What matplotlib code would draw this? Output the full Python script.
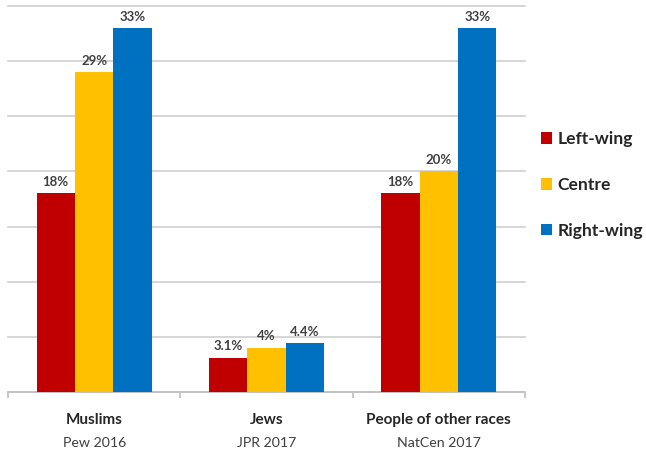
import matplotlib
matplotlib.use("Agg")
import matplotlib.pyplot as plt
from matplotlib.patches import Patch
import numpy as np

plt.rcParams['font.family'] = ['Lato', 'DejaVu Sans']

groups = ["Muslims", "Jews", "People of other races"]
sources = ["Pew 2016", "JPR 2017", "NatCen 2017"]
series = ["Left-wing", "Centre", "Right-wing"]
left_wing = [18, 3.1, 18]
centre = [29, 4.0, 20]
right_wing = [33, 4.4, 33]
colors = ["#C00000", "#FFC000", "#0070C0"]

fig = plt.figure(figsize=(6.46, 4.54), dpi=100)
W, H = 646, 454
ax = fig.add_axes([8 / W, (H - 392) / H, (525 - 8) / W, (392 - 6) / H])

x = np.arange(len(groups))
width = 0.223
for i, (vals, col, name) in enumerate(zip([left_wing, centre, right_wing], colors, series)):
    bars = ax.bar(x + (i - 1) * width, vals, width, color=col, label=name, zorder=3)
    ax.bar_label(bars, labels=[f"{v:g}%" for v in vals], padding=4,
                 fontsize=9.5, fontweight='bold', color='#404040')

ax.set_xlim(-0.5, 2.5)
ax.set_ylim(0, 35)
ax.set_yticks(np.arange(0, 36, 5))
ax.yaxis.grid(True, color='#d0d0d0', linewidth=1.2, zorder=0)
for gl in ax.get_ygridlines():
    gl.set_clip_on(False)
ax.tick_params(axis='y', left=False, labelleft=False)
for s in ['left', 'right', 'top']:
    ax.spines[s].set_visible(False)
ax.spines['bottom'].set_color('#c0c0c0')
ax.spines['bottom'].set_linewidth(1.2)

ax.set_xticks(x)
ax.tick_params(axis='x', which='major', length=0, labelbottom=False)
ax.set_xticks([-0.5, 0.5, 1.5, 2.5], minor=True)
ax.tick_params(axis='x', which='minor', length=4, color='#c0c0c0', width=1.2)

for xi, g, s in zip(x, groups, sources):
    ax.annotate(g, xy=(xi, 0), xycoords=('data', 'axes fraction'),
                xytext=(0, -20.5), textcoords='offset points',
                ha='center', va='center', fontsize=11, fontweight='bold', color='#262626')
    ax.annotate(s, xy=(xi, 0), xycoords=('data', 'axes fraction'),
                xytext=(0, -37), textcoords='offset points',
                ha='center', va='center', fontsize=10.2, color='#404040')

handles = [Patch(facecolor=c, label=n) for c, n in zip(colors, series)]
fig.legend(handles=handles, loc='center left', bbox_to_anchor=(541 / W, 1 - 185 / H),
           frameon=False, prop={'weight': 'bold', 'size': 12.6},
           borderaxespad=0, borderpad=0,
           handlelength=0.65, handleheight=0.65, handletextpad=0.3,
           labelspacing=1.7, labelcolor='#262626')

fig.savefig("out.png", dpi=100)
